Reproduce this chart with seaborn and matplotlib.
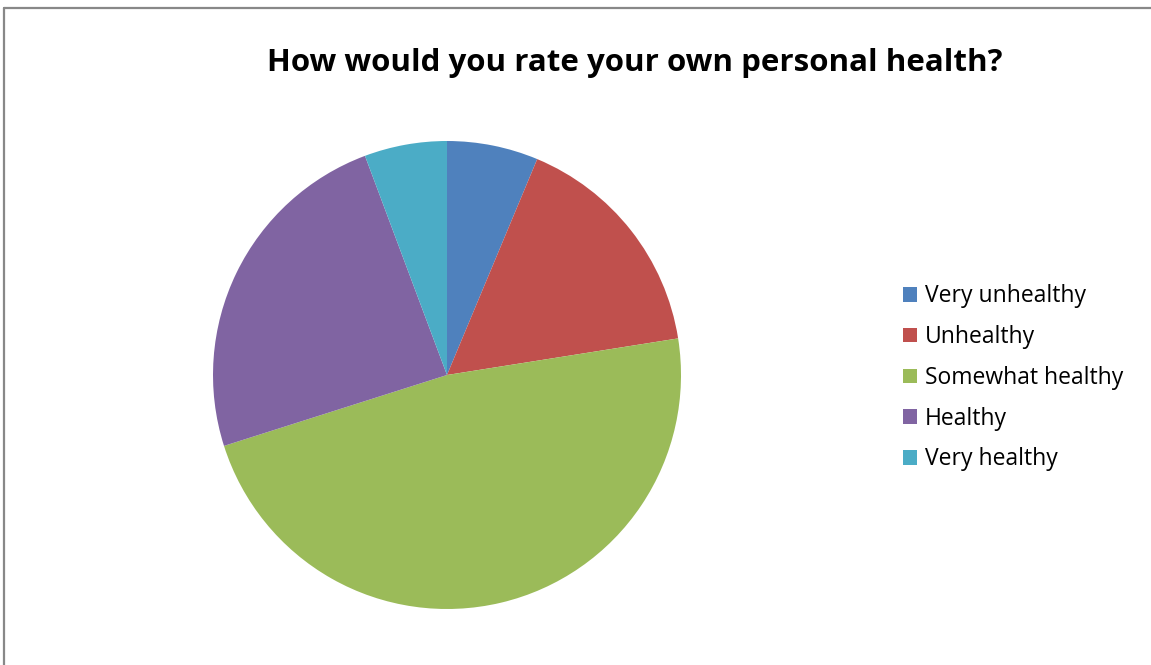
import matplotlib
matplotlib.use("Agg")
import matplotlib.pyplot as plt
import seaborn as sns

sns.set_style("white")
plt.rcParams['font.family'] = ['Open Sans', 'DejaVu Sans']

categories = ["Very unhealthy", "Unhealthy", "Somewhat healthy", "Healthy", "Very healthy"]
shares = [6.3, 16.2, 47.6, 24.2, 5.7]
colors = ["#4F81BD", "#C0504D", "#9BBB59", "#8064A2", "#4BACC6"]

W, H = 1151, 665
fig = plt.figure(figsize=(W / 100, H / 100), dpi=100)
fig.patch.set_facecolor("white")

# chart frame (left and top edges)
fig.add_artist(plt.Line2D([4 / W, 4 / W], [0, 1 - 8 / H], color="#888888", lw=1.6,
                          transform=fig.transFigure))
fig.add_artist(plt.Line2D([4 / W, 1], [1 - 8 / H, 1 - 8 / H], color="#888888", lw=1.6,
                          transform=fig.transFigure))

cx, cy, r = 447, 375, 234
ax = fig.add_axes([(cx - r) / W, (H - cy - r) / H, 2 * r / W, 2 * r / H])
wedges, _ = ax.pie(shares, colors=sns.color_palette(colors), startangle=90,
                   counterclock=False, radius=1.0,
                   wedgeprops=dict(edgecolor="none", linewidth=0))
ax.set_xlim(-1, 1)
ax.set_ylim(-1, 1)
ax.set_aspect("auto")
ax.axis("off")

fig.text(635 / W, 1 - 63 / H, "How would you rate your own personal health?",
         ha="center", va="center", fontsize=22.5, fontweight="bold", color="black")

leg = fig.legend(wedges, categories, loc="upper left",
                 bbox_to_anchor=(892 / W, 1 - 273 / H), frameon=False,
                 fontsize=16.5, handlelength=0.6, handleheight=0.6,
                 handletextpad=0.33, labelspacing=0.73, borderpad=0,
                 labelcolor="black")

fig.savefig("out.png", dpi=100, facecolor="white")
